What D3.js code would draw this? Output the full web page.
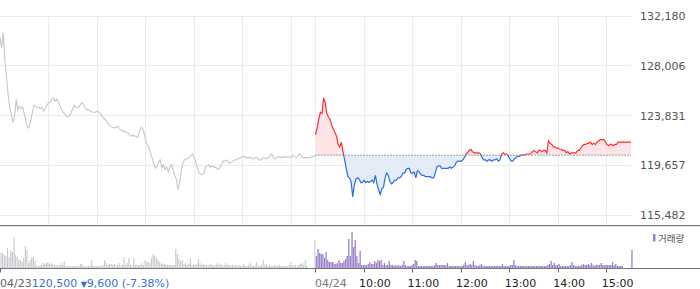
<!DOCTYPE html>
<html><head><meta charset="utf-8">
<script src="https://cdn.jsdelivr.net/npm/d3@7"></script>
<style>body{margin:0;background:#fff}svg{display:block;font-family:"DejaVu Sans",sans-serif}</style>
</head><body><svg id="c" width="700" height="289"></svg>
<script>
// ---- data (2-minute samples) ----
const prevCloseDate = "04/23";
const prevClose = 120500;
const prevChange = "9,600";
const prevChangePct = "(-7.38%)";
const dayLabels = ["04/23", "04/24"];
const timeLabels = ["10:00", "11:00", "12:00", "13:00", "14:00", "15:00"];
const yTicks = [115482, 119657, 123831, 128006, 132180];

const day1Price = [130400,129500,130800,128500,127100,125600,124500,123900,123300,123700,
125200,124300,124600,124400,124500,124000,123400,122800,122800,123400,
124100,124700,124600,124500,124500,124400,124500,124200,124400,124700,
124900,124900,125200,125300,125000,125200,125000,124700,124400,124100,
124000,123700,123700,123800,124100,124400,124700,124500,124500,124600,
124800,124900,124600,124400,124300,124300,124200,124100,124100,124100,
124200,124100,124000,123800,123600,123500,123300,123100,123000,122900,
122800,122800,122900,122900,122700,122600,122500,122500,122400,122400,
122200,122100,122200,122100,122100,122000,122400,122800,122800,122400,
121800,121400,121100,120700,120300,119800,119400,119600,119900,120100,
119400,119700,119300,119500,119100,119500,119700,119300,118800,118500,
117600,118200,119100,119800,120100,120200,120200,120300,120500,120600,
120300,120000,119400,119000,118900,118900,119000,119500,119600,119700,
119500,119600,119500,119500,119400,119300,119500,119700,120000,120000,
120100,120000,119800,119900,120000,120100,120100,120200,120200,120300,
120400,120400,120300,120300,120300,120300,120200,120200,120300,120300,
120100,120100,120200,120300,120200,120200,120300,120500,120600,120300,
120200,120300,120400,120300,120300,120400,120300,120400,120300,120400,
120300,120500,120400,120300,120400,120600,120500,120300,120300,120300,
120300,120300,120300,120400,120400,120500];

const day2Price = [122200,122800,123500,124100,124000,125300,124900,124000,123700,123500,
123000,122700,122400,122100,121400,121200,121600,120800,120100,119400,
118700,118600,118300,117000,118000,118500,118600,118500,118200,118200,
118400,118200,118300,118200,118300,118400,118200,118800,118100,117600,
117200,117700,117800,118600,119000,118800,118300,118100,118200,118400,
118400,118600,118600,118700,119000,119000,119300,119400,119400,119000,
119000,119100,118600,119200,119100,118900,118800,118800,118700,118700,
118700,118700,118600,118600,119000,119500,119600,119600,119400,119400,
119400,119400,119400,119500,119400,119500,119600,119900,120000,120000,
120000,120100,120300,120600,120700,120900,121000,120800,120700,120700,
120700,120700,120600,120300,120100,120100,120000,120100,120100,120000,
120100,120100,120200,120000,120100,120600,120700,120600,120600,120500,
120200,120000,120000,120200,120300,120400,120400,120500,120500,120500,
120600,120600,120600,120600,120800,120900,120800,120700,120900,120900,
120800,120900,120900,120700,121700,121500,121400,121200,121200,121100,
121100,121000,121000,120900,120900,120700,120800,120600,120700,120700,
120700,120700,120900,120900,121100,121300,121400,121400,121500,121500,
121600,121400,121500,121400,121600,121700,121800,121800,121800,121700,
121400,121300,121400,121400,121300,121400,121400,121600,121600,121600,
121600,121600,121600,121600,121600,121600];

// volume, thousand shares per 2-minute slot (estimated)
const day1Vol = [32,15,15,13,12,20,11,18,16,31,
13,11,8,8,6,10,22,18,5,8,
11,10,7,2,2,2,3,5,4,5,
6,4,5,4,3,2,3,2,5,3,
7,2,2,2,2,2,2,2,2,2,
4,4,2,2,2,2,2,8,2,2,
2,2,2,2,3,8,5,3,4,4,
3,4,2,3,5,2,3,11,3,5,
10,3,2,10,3,3,3,3,5,3,
8,6,6,5,10,14,12,10,8,6,
4,5,4,3,3,3,3,3,3,19,
14,9,7,8,4,5,3,4,10,3,
4,3,4,9,5,3,4,3,3,2,
4,3,3,2,3,5,3,4,2,3,
5,3,3,2,3,2,3,2,3,2,
2,4,2,2,3,5,2,2,3,6,
2,2,3,8,3,4,2,3,2,2,
3,2,2,3,2,2,2,2,2,3,
6,3,2,3,2,3,4,5,3,8,
2,0,0,0,0,28];

const day2Vol = [12,19,15,14,14,10,16,8,6,6,
6,4,4,5,8,5,5,7,9,12,
29,12,36,21,28,12,5,17,3,3,
3,3,4,6,4,4,7,5,8,7,
8,3,5,3,3,7,3,3,2,3,
2,3,2,3,7,3,2,2,2,3,
4,8,7,2,2,2,2,2,2,2,
2,2,2,3,5,3,3,3,3,3,
3,5,2,2,2,2,2,2,2,2,
2,3,6,3,3,4,3,7,3,2,
2,3,4,2,2,2,2,2,2,2,
2,2,2,2,2,4,2,2,2,2,
3,3,8,3,2,2,2,2,2,2,
2,2,2,2,2,2,2,2,2,2,
2,2,2,3,4,7,3,5,3,3,
4,2,2,2,2,2,2,3,6,3,
2,2,2,2,3,4,3,3,4,3,
5,3,2,3,3,3,5,3,3,3,
3,3,3,6,3,4,2,2,2,2,
0,0,0,0,0,18];

// ---- build ----
const svg = d3.select("#c");
svg.append("rect").attr("width",700).attr("height",289).attr("fill","#fff");

const x = d3.scaleLinear().domain([0, 780]).range([0, 631]);   // trading minutes over two days
const y = d3.scaleLinear().domain([115482, 132180]).range([215, 16]);
const yv = d3.scaleLinear().domain([0, 40]).range([268, 228]);

const d1 = day1Price.map((p, i) => ({t: i * 2, p}));
const d2 = day2Price.map((p, i) => ({t: 390 + i * 2, p}));

const px = v => Math.floor(v) + 0.5;

// grid
const vGrid = [60,120,180,240,300,360,390,450,510,570,630,690,750];
svg.append("g").selectAll("line").data(vGrid).join("line")
  .attr("x1", d => px(x(d))).attr("x2", d => px(x(d)))
  .attr("y1", y(132180)).attr("y2", 225)
  .attr("stroke", "#ebebeb").attr("stroke-width", 1);
svg.append("g").selectAll("line").data(yTicks).join("line")
  .attr("x1", 0).attr("x2", 631)
  .attr("y1", d => px(y(d))).attr("y2", d => px(y(d)))
  .attr("stroke", "#ebebeb").attr("stroke-width", 1);

// y labels
svg.append("g").selectAll("text").data(yTicks).join("text")
  .attr("x", 640).attr("y", d => y(d) + 4)
  .attr("font-size", 11).attr("fill", "#555")
  .text(d => d3.format(",")(d));

// day 1 line
const line = d3.line().x(d => x(d.t)).y(d => y(d.p));
svg.append("path").datum(d1).attr("d", line)
  .attr("fill", "none").attr("stroke", "#c6c7cb").attr("stroke-width", 1.1);

// day 2 coloured fill & line
const yBase = y(prevClose);
const defs = svg.append("defs");
defs.append("clipPath").attr("id", "up").append("rect")
  .attr("x", 0).attr("y", 0).attr("width", 700).attr("height", yBase);
defs.append("clipPath").attr("id", "dn").append("rect")
  .attr("x", 0).attr("y", yBase).attr("width", 700).attr("height", 225 - yBase);
const area = d3.area().x(d => x(d.t)).y0(yBase).y1(d => y(d.p));
svg.append("path").datum(d2).attr("d", area).attr("clip-path", "url(#up)").attr("fill", "#fde4e6");
svg.append("path").datum(d2).attr("d", area).attr("clip-path", "url(#dn)").attr("fill", "#e4ecf8");
svg.append("line").attr("x1", x(390)).attr("x2", x(780)).attr("y1", yBase).attr("y2", yBase)
  .attr("stroke", "#444").attr("stroke-width", 1).attr("stroke-dasharray", "1,2");
svg.append("path").datum(d2).attr("d", line).attr("clip-path", "url(#up)")
  .attr("fill", "none").attr("stroke", "#ff2d2d").attr("stroke-width", 1.2);
svg.append("path").datum(d2).attr("d", line).attr("clip-path", "url(#dn)")
  .attr("fill", "none").attr("stroke", "#2a6fdb").attr("stroke-width", 1.2);

// plot bottom border
svg.append("line").attr("x1", 0).attr("x2", 700).attr("y1", 225.5).attr("y2", 225.5).attr("stroke", "#777");
svg.append("line").attr("x1", 0).attr("x2", 700).attr("y1", 226.5).attr("y2", 226.5).attr("stroke", "#e3e3e3");

// volume
const v1 = day1Vol.map((v, i) => ({t: i * 2, v}));
const v2 = day2Vol.map((v, i) => ({t: 390 + i * 2, v}));
svg.append("g").selectAll("rect").data(v1.filter(d => d.v > 0)).join("rect")
  .attr("x", d => x(d.t) - 1.1).attr("width", 1.1)
  .attr("y", d => yv(d.v)).attr("height", d => 268 - yv(d.v))
  .attr("fill", "#c6c7cb");
svg.append("g").selectAll("rect").data(v2.filter(d => d.v > 0)).join("rect")
  .attr("x", d => x(d.t) + 0.3).attr("width", 1.3)
  .attr("y", d => yv(d.v)).attr("height", d => 268 - yv(d.v))
  .attr("fill", "#9a80c6");

// volume baseline & ticks
svg.append("line").attr("x1", 0).attr("x2", 700).attr("y1", 268.5).attr("y2", 268.5).attr("stroke", "#777");
const tickM = [0, 390, 450, 510, 570, 630, 690, 750];
svg.append("g").selectAll("line").data(tickM).join("line")
  .attr("x1", d => px(x(d))).attr("x2", d => px(x(d)))
  .attr("y1", 268).attr("y2", 272.5).attr("stroke", "#666");

// x labels
svg.append("text").attr("x", px(x(390)) - 0.5).attr("y", 286.5).attr("font-size", 11).attr("fill", "#777").text(dayLabels[1]);
svg.append("g").selectAll("text").data(timeLabels).join("text")
  .attr("x", (d, i) => x(450 + i * 60) - 5).attr("y", 286.5)
  .attr("font-size", 11).attr("fill", "#222").text(d => d);

const info = svg.append("text").attr("x", 0).attr("y", 286.5).attr("font-size", 11);
info.append("tspan").attr("fill", "#666").text(dayLabels[0]);
info.append("tspan").attr("fill", "#3a70d2").text(d3.format(",")(prevClose) + " ");
info.append("tspan").attr("fill", "#3a70d2").attr("font-size", 8).text("▼");
info.append("tspan").attr("fill", "#3a70d2").text(prevChange + " " + prevChangePct);

// legend
svg.append("rect").attr("x", 653).attr("y", 234).attr("width", 2.5).attr("height", 7.5).attr("fill", "#9a80c6");
svg.append("text").attr("x", 658).attr("y", 241.5).attr("font-size", 9.5)
  .attr("font-family", "'Noto Sans CJK KR', sans-serif").attr("fill", "#555").text("거래량");
</script></body></html>
